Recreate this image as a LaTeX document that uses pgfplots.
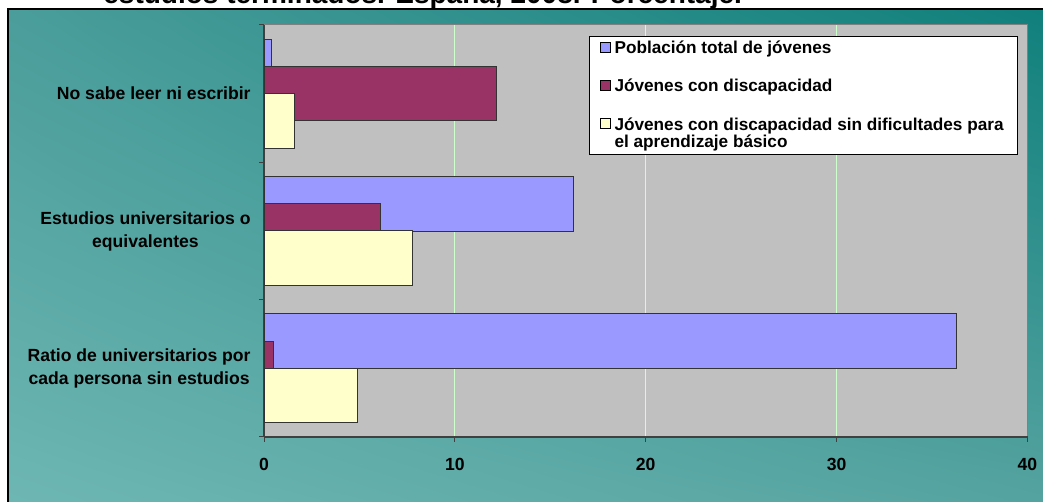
\documentclass[border=0pt]{standalone}
\usepackage{pgfplots}
\pgfplotsset{compat=1.18}
\usepackage{fontspec}
\setmainfont{Liberation Sans}
\usetikzlibrary{shadings}

\definecolor{serieA}{HTML}{9999FF}
\definecolor{serieB}{HTML}{993366}
\definecolor{serieC}{HTML}{FFFFCC}
\definecolor{plotbg}{HTML}{C0C0C0}
\definecolor{gridc}{HTML}{CCFFCC}
\definecolor{bgTL}{HTML}{4A9D9A}
\definecolor{bgTR}{HTML}{10807C}
\definecolor{bgBL}{HTML}{6DB6B3}
\definecolor{bgBR}{HTML}{55A3A0}

% one series per table: value, category (0 = bottom)
\pgfplotstableread{
x y
0.4 2
16.2 1
36.3 0
}\poblacion
\pgfplotstableread{
x y
12.2 2
6.1 1
0.5 0
}\discap
\pgfplotstableread{
x y
1.6 2
7.8 1
4.9 0
}\sindific

% square legend marker, raised by #1 (for two-line entries)
\pgfplotsset{
  sq legend/.style={legend image code/.code={%
    \draw[##1, draw=black, line width=0.5pt] (0pt,0.6pt+#1) rectangle (5pt,5.6pt+#1);}},
  sq legend/.default=0pt,
}

\begin{document}
\begin{tikzpicture}[x=0.5pt,y=0.5pt]
\useasboundingbox (0,0) rectangle (1043,502);
\fill[white] (0,0) rectangle (1043,502);
\shade[upper left=bgTL, upper right=bgTR, lower left=bgBL, lower right=bgBR]
  (8,0) rectangle (1043,492.5);
\draw[black, line width=1pt] (8,0) -- (8,492.5) -- (1043,492.5);
\node[anchor=base west, inner sep=0pt, font=\bfseries\fontsize{14}{16}\selectfont]
  at (103,498) {estudios terminados. España, 2008. Porcentaje.};

\begin{axis}[
  at={(132pt,32.5pt)}, anchor=south west,
  width=381.75pt, height=206pt, scale only axis,
  xmin=0, xmax=40, ymin=-0.5, ymax=2.5,
  xbar, bar width=0.397,
  axis background/.style={fill=plotbg, draw=black!50, line width=0.5pt},
  axis x line*=bottom, axis y line*=left,
  axis line style={black!75, line width=1pt},
  tick style={black!75, line width=0.5pt},
  tick align=outside, major tick length=2.5pt,
  xtick={0,10,20,30,40},
  minor xtick={10,20,30}, xminorgrids=true, minor tick length=0pt,
  minor grid style={gridc, line width=0.5pt},
  /pgf/number format/assume math mode=true,
  xticklabel style={font=\bfseries\fontsize{8.8}{10}\selectfont, inner sep=0pt, yshift=-7.75pt},
  ytick={-0.5,0.5,1.5,2.5}, yticklabels={},
  extra y ticks={0,1,2},
  extra y tick labels={{Ratio de universitarios por\\cada persona sin estudios},{Estudios universitarios o\\equivalentes},{No sabe leer ni escribir}},
  extra y tick style={major tick length=0pt},
  yticklabel style={font=\bfseries\fontsize{8.8}{11.5}\selectfont, align=center, inner sep=0pt, xshift=-6.5pt},
  legend style={at={(0.4257,0.973)}, anchor=north west, draw=black, line width=0.5pt,
    fill=white, font=\bfseries\fontsize{8.6}{8.5}\selectfont,
    inner xsep=5pt, inner ysep=0pt, row sep=7.4pt,
    cells={anchor=base west, align=left, inner ysep=0pt, text depth=0pt}},
]
\addplot[fill=serieA, draw=black!80, line width=0.5pt, bar shift=0.198, sq legend]
  table[x=x, y=y] {\poblacion};
\addlegendentry{Población total de jóvenes}
\addplot[fill=serieB, draw=black!80, line width=0.5pt, bar shift=0, sq legend]
  table[x=x, y=y] {\discap};
\addlegendentry{Jóvenes con discapacidad}
\addplot[fill=serieC, draw=black!80, line width=0.5pt, bar shift=-0.198, sq legend=8.5pt]
  table[x=x, y=y] {\sindific};
\addlegendentry{{Jóvenes con discapacidad sin dificultades para\\el aprendizaje básico}}
\end{axis}
\end{tikzpicture}
\end{document}
